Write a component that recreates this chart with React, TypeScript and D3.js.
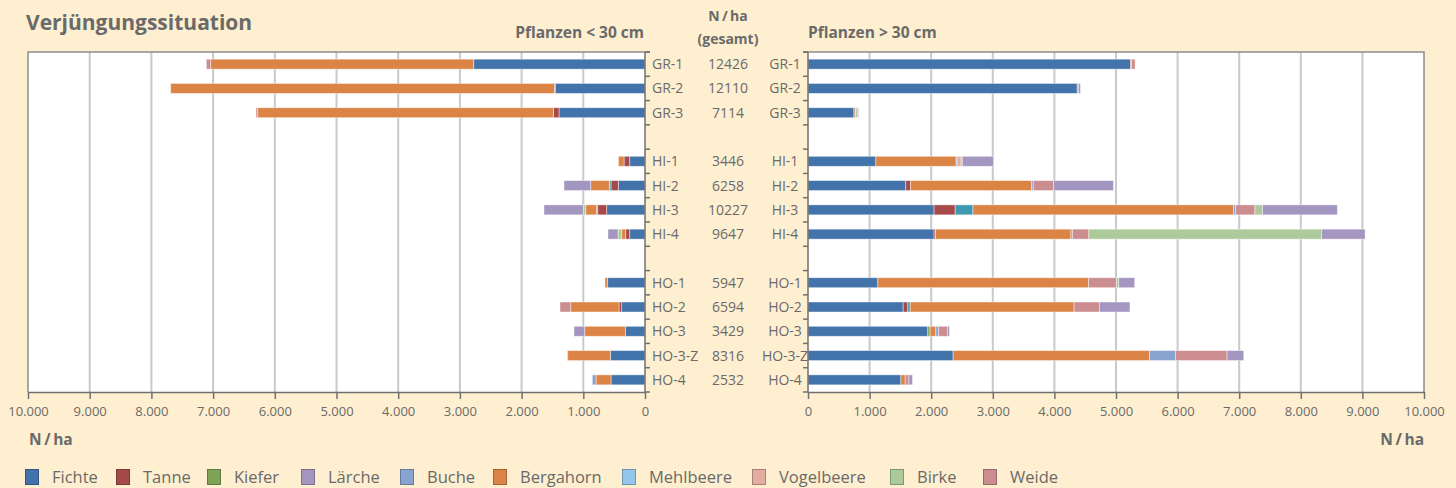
import { useEffect, useRef } from 'react';
import * as d3 from 'd3';

// Bestandesbezeichnungen (leere Einträge = Abstand zwischen den Gruppen)
const plots = ['GR-1', 'GR-2', 'GR-3', '', 'HI-1', 'HI-2', 'HI-3', 'HI-4', '', 'HO-1', 'HO-2', 'HO-3', 'HO-3-Z', 'HO-4'];
const totals = [12426, 12110, 7114, null, 3446, 6258, 10227, 9647, null, 5947, 6594, 3429, 8316, 2532];

// Legende
const legendSpecies = ['Fichte', 'Tanne', 'Kiefer', 'Lärche', 'Buche', 'Bergahorn', 'Mehlbeere', 'Vogelbeere', 'Birke', 'Weide'];
const legendColors = ['#4273ab', '#a5494b', '#7fa356', '#a396c0', '#88a3cf', '#db8446', '#93c6ea', '#e4ada2', '#adca9a', '#cc8d90'];

// Reihenfolge in den Balken
const stackSpecies = ['Fichte', 'Tanne', 'Kiefer', 'Mehlbeere', 'Bergahorn', 'Buche', 'Vogelbeere', 'Weide', 'Birke', 'Lärche'];
const stackColors = ['#4273ab', '#a5494b', '#7fa356', '#3f9ab1', '#db8446', '#88a3cf', '#e4ada2', '#cc8d90', '#adca9a', '#a396c0'];

// Pflanzen < 30 cm, N/ha (Zeilen = stackSpecies)
const under30 = [
  [2776, 1454, 1394, 0, 248, 433, 621, 248, 0, 605, 378, 319, 562, 551],
  [0, 15, 92, 0, 92, 118, 146, 65, 0, 0, 43, 0, 0, 0],
  [0, 0, 0, 0, 0, 0, 16, 0, 0, 0, 0, 0, 0, 0],
  [0, 0, 0, 0, 0, 28, 0, 0, 0, 0, 0, 0, 0, 0],
  [4263, 6218, 4791, 0, 91, 301, 178, 65, 0, 44, 783, 658, 691, 243],
  [0, 0, 0, 0, 0, 0, 0, 0, 0, 0, 0, 0, 0, 60],
  [0, 0, 0, 0, 0, 0, 0, 0, 0, 0, 0, 0, 0, 0],
  [71, 0, 28, 0, 0, 0, 0, 0, 0, 0, 174, 0, 11, 0],
  [0, 0, 0, 0, 0, 0, 39, 60, 0, 0, 0, 0, 0, 0],
  [0, 0, 0, 0, 0, 433, 637, 162, 0, 0, 0, 174, 0, 0],
];

// Pflanzen > 30 cm, N/ha
const over30 = [
  [5235, 4370, 746, 0, 1102, 1588, 2047, 2047, 0, 1134, 1545, 1945, 2356, 1508],
  [0, 0, 0, 0, 0, 77, 342, 23, 0, 0, 76, 0, 0, 0],
  [0, 0, 0, 0, 0, 0, 0, 0, 0, 0, 0, 38, 0, 0],
  [0, 0, 0, 0, 0, 0, 289, 0, 0, 0, 38, 0, 0, 0],
  [20, 0, 0, 0, 1303, 1966, 4231, 2199, 0, 3419, 2661, 92, 3187, 70],
  [0, 0, 0, 0, 15, 26, 34, 23, 0, 0, 0, 43, 422, 0],
  [0, 0, 0, 0, 65, 0, 0, 0, 0, 0, 0, 0, 0, 0],
  [55, 20, 27, 0, 0, 331, 313, 267, 0, 452, 410, 146, 838, 60],
  [0, 0, 30, 0, 20, 0, 122, 3780, 0, 40, 0, 0, 0, 0],
  [0, 34, 19, 0, 508, 972, 1215, 705, 0, 259, 496, 33, 271, 59],
];

const xTicks = d3.range(0, 10001, 1000);
const legendX = [25, 116, 207, 301, 400, 493, 622, 752, 890, 983];

const W = 1456;
const H = 488;
const FONT = '"Open Sans", "Noto Sans", sans-serif';
const TXT = '#6a6a6a';
const UNIT = 'N\u2009/\u2009ha';

export default function App() {
  const svgRef = useRef<SVGSVGElement>(null);

  useEffect(() => {
    if (!svgRef.current) return;
    document.body.style.margin = '0';
    const svg = d3.select(svgRef.current);
    svg.selectAll('*').remove();

    const top = 52;
    const bottom = 392;
    const xL = d3.scaleLinear().domain([0, 10000]).range([645, 28]);
    const xR = d3.scaleLinear().domain([0, 10000]).range([808, 1424]);
    const y = d3.scaleBand<number>().domain(d3.range(plots.length)).range([top, bottom]);
    const barH = 10;
    const de = d3.formatLocale({ decimal: ',', thousands: '.', grouping: [3], currency: ['', '€'] }).format(',d');

    svg.append('rect').attr('width', W).attr('height', H).attr('fill', '#feefd0');

    // Titel und Überschriften
    svg.append('text').attr('x', 26).attr('y', 30).text('Verjüngungssituation')
      .attr('font-size', 21).attr('font-weight', 700);
    svg.append('text').attr('x', 644).attr('y', 38).attr('text-anchor', 'end').text('Pflanzen < 30 cm')
      .attr('font-size', 15.5).attr('font-weight', 700);
    svg.append('text').attr('x', 808).attr('y', 38).text('Pflanzen > 30 cm')
      .attr('font-size', 15.5).attr('font-weight', 700);
    svg.append('text').attr('x', 728).attr('y', 21).attr('text-anchor', 'middle').text(UNIT)
      .attr('font-size', 14).attr('font-weight', 700);
    svg.append('text').attr('x', 728).attr('y', 44).attr('text-anchor', 'middle').text('(gesamt)')
      .attr('font-size', 14).attr('font-weight', 700);

    const panels = [
      { x: xL, data: under30, dir: 1 },
      { x: xR, data: over30, dir: -1 },
    ];

    panels.forEach(({ x, data, dir }) => {
      const g = svg.append('g');
      const [r0, r1] = x.range();
      const x0 = Math.min(r0, r1);
      const x1 = Math.max(r0, r1);
      g.append('rect').attr('x', x0).attr('y', top).attr('width', x1 - x0).attr('height', bottom - top)
        .attr('fill', '#fff');

      // Gitterlinien
      g.selectAll('line.grid').data(xTicks.slice(1, -1)).join('line')
        .attr('x1', (d) => x(d)).attr('x2', (d) => x(d)).attr('y1', top).attr('y2', bottom)
        .attr('stroke', '#c9c9cc').attr('stroke-width', 2);

      // Balken
      const table = plots.map((_, i) => {
        const row: Record<string, number> = { idx: i };
        stackSpecies.forEach((s, k) => (row[s] = data[k][i]));
        return row;
      });
      const series = d3.stack<Record<string, number>>().keys(stackSpecies)(table);
      series.forEach((s, k) => {
        g.append('g').selectAll('rect').data(s.filter((d) => d[1] - d[0] > 0)).join('rect')
          .attr('x', (d) => Math.min(x(d[0]), x(d[1])))
          .attr('width', (d) => Math.abs(x(d[1]) - x(d[0])))
          .attr('y', (d) => (y(d.data.idx) as number) + y.bandwidth() / 2 - barH / 2)
          .attr('height', barH)
          .attr('fill', stackColors[k])
          .attr('stroke', 'rgba(255,255,255,0.55)')
          .attr('stroke-width', 0.8);
      });

      // Rahmen
      const outer = dir === 1 ? x0 : x1;
      const axisX = dir === 1 ? x1 : x0;
      g.append('path')
        .attr('d', `M${axisX + dir * 5},${top}H${outer}V${bottom}`)
        .attr('fill', 'none').attr('stroke', '#8d8d8d').attr('stroke-width', 1.5);
      g.append('line').attr('x1', axisX).attr('x2', axisX).attr('y1', top).attr('y2', bottom)
        .attr('stroke', '#707070').attr('stroke-width', 1.5);
      g.selectAll('line.yt').data(d3.range(plots.length + 1)).join('line')
        .attr('x1', axisX).attr('x2', axisX + dir * 5)
        .attr('y1', (i) => top + i * y.step()).attr('y2', (i) => top + i * y.step())
        .attr('stroke', '#707070').attr('stroke-width', 1.5);

      // x-Achse
      const axis = g.append('g').attr('transform', `translate(0,${bottom})`)
        .call(d3.axisBottom(x).tickValues(xTicks).tickSize(7).tickSizeOuter(0).tickPadding(8)
          .tickFormat((d) => de(d as number)));
      axis.select('.domain').attr('stroke', '#707070').attr('stroke-width', 1.5);
      axis.selectAll('line').attr('stroke', '#707070').attr('stroke-width', 1.5);
      axis.selectAll('text').attr('fill', TXT).attr('font-size', 13).attr('font-family', FONT);
    });

    // Beschriftung in der Mitte
    const mid = svg.append('g').attr('font-size', 14);
    plots.forEach((p, i) => {
      if (!p) return;
      const cy = (y(i) as number) + y.bandwidth() / 2 + 5;
      mid.append('text').attr('x', 652).attr('y', cy).text(p);
      mid.append('text').attr('x', 728).attr('y', cy).attr('text-anchor', 'middle').text(String(totals[i]));
      mid.append('text').attr('x', 785).attr('y', cy).attr('text-anchor', 'middle').text(p);
    });

    svg.append('text').attr('x', 29).attr('y', 445).text(UNIT).attr('font-size', 15.5).attr('font-weight', 700);
    svg.append('text').attr('x', 1424).attr('y', 445).attr('text-anchor', 'end').text(UNIT)
      .attr('font-size', 15.5).attr('font-weight', 700);

    // Legende
    const lg = svg.append('g');
    legendSpecies.forEach((s, i) => {
      lg.append('rect').attr('x', legendX[i] + 0.5).attr('y', 469.5).attr('width', 13).attr('height', 15)
        .attr('fill', legendColors[i]).attr('stroke', d3.color(legendColors[i])!.darker(0.8).formatHex())
        .attr('stroke-width', 1);
      lg.append('text').attr('x', legendX[i] + 27).attr('y', 483).text(s).attr('font-size', 16.5);
    });

    svg.selectAll('text').attr('font-family', FONT).filter(function () {
      return !(this as SVGTextElement).getAttribute('fill');
    }).attr('fill', TXT);
  }, []);

  return <svg ref={svgRef} width={W} height={H} style={{ display: 'block' }} />;
}
